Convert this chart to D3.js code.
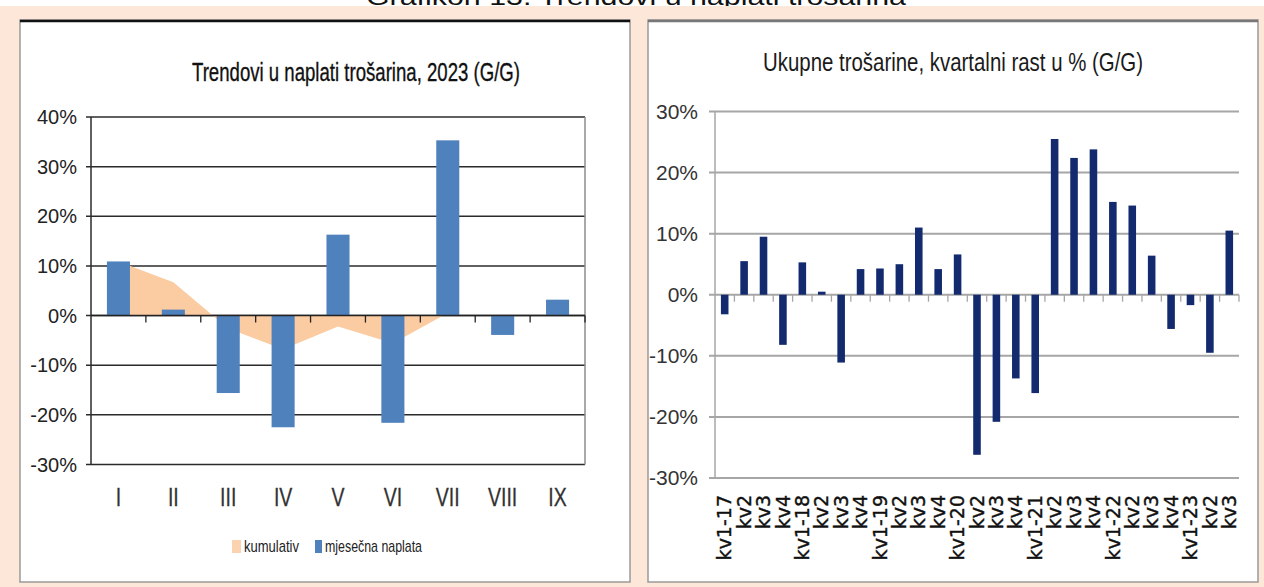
<!DOCTYPE html>
<html>
<head>
<meta charset="utf-8">
<script src="https://d3js.org/d3.v7.min.js"></script>
<style>
body { margin: 0; background: #fff; }
svg { display: block; }
.narrow { font-family: "Liberation Sans Narrow", "Arial Narrow", "Liberation Sans", sans-serif; }
.dejavu { font-family: "DejaVu Sans", sans-serif; }
</style>
</head>
<body>
<svg id="chart" width="1264" height="587"></svg>
<script>
// left chart: monthly collection 2023
const months = ["I", "II", "III", "IV", "V", "VI", "VII", "VIII", "IX"];
const monthly = [10.9, 1.2, -15.6, -22.5, 16.3, -21.6, 35.3, -3.9, 3.2];
const cumulative = [10.9, 6.7, -2.6, -6.8, -2.2, -5.6, 0.5]; // only up to VII
const leftTicks = [-30, -20, -10, 0, 10, 20, 30, 40];

// right chart: quarterly growth
const quarters = ["kv1-17", "kv2", "kv3", "kv4", "kv1-18", "kv2", "kv3", "kv4",
  "kv1-19", "kv2", "kv3", "kv4", "kv1-20", "kv2", "kv3", "kv4",
  "kv1-21", "kv2", "kv3", "kv4", "kv1-22", "kv2", "kv3", "kv4",
  "kv1-23", "kv2", "kv3"];
const quarterly = [-3.2, 5.5, 9.5, -8.2, 5.3, 0.5, -11.1, 4.2,
  4.3, 5.0, 11.0, 4.2, 6.6, -26.2, -20.8, -13.7,
  -16.1, 25.5, 22.4, 23.8, 15.2, 14.6, 6.4, -5.6,
  -1.7, -9.5, 10.5];
const rightTicks = [-30, -20, -10, 0, 10, 20, 30];

const svg = d3.select("#chart");
const pct = d => d + "%";

// page background + cut-off page caption
svg.append("text").attr("x", 636).attr("y", 5).attr("text-anchor", "middle")
  .attr("font-family", "Liberation Sans, sans-serif").attr("font-size", 24)
  .attr("textLength", 540).attr("lengthAdjust", "spacingAndGlyphs")
  .attr("fill", "#111").text("Grafikon 13: Trendovi u naplati trošarina");
svg.append("rect").attr("x", 0).attr("y", 6).attr("width", 1264).attr("height", 581).attr("fill", "#fce7d9");

// panels
svg.append("rect").attr("x", 20).attr("y", 20).attr("width", 610).attr("height", 562)
  .attr("fill", "#fff").attr("stroke", "#9a9a9a").attr("stroke-width", 1.5);
svg.append("line").attr("x1", 20).attr("x2", 630).attr("y1", 21).attr("y2", 21)
  .attr("stroke", "#111").attr("stroke-width", 2.5);
svg.append("rect").attr("x", 648).attr("y", 20).attr("width", 610).attr("height", 562)
  .attr("fill", "#fff").attr("stroke", "#9a9a9a").attr("stroke-width", 1.5);
svg.append("line").attr("x1", 648).attr("x2", 1258).attr("y1", 21).attr("y2", 21)
  .attr("stroke", "#777").attr("stroke-width", 2.5);

// ---------- left chart ----------
const L = svg.append("g");
const xL = d3.scaleBand().domain(months.map((m, i) => i)).range([91, 585])
  .paddingInner(0.58).paddingOuter(0.29);
const yL = d3.scaleLinear().domain([-30, 40]).range([464.5, 117]);
const cxL = i => xL(i) + xL.bandwidth() / 2;

L.append("text").attr("class", "narrow").attr("x", 356).attr("y", 81)
  .attr("text-anchor", "middle").attr("font-size", 26).attr("fill", "#111")
  .attr("stroke", "#111").attr("stroke-width", 0.35)
  .attr("textLength", 328).attr("lengthAdjust", "spacingAndGlyphs")
  .text("Trendovi u naplati trošarina, 2023 (G/G)");

L.selectAll(".grid").data(leftTicks).join("line")
  .attr("x1", 86).attr("x2", 585)
  .attr("y1", d => yL(d)).attr("y2", d => yL(d))
  .attr("stroke", "#2b2b2b").attr("stroke-width", 1.5);
L.append("line").attr("x1", 585).attr("x2", 585).attr("y1", yL(40)).attr("y2", yL(-30))
  .attr("stroke", "#8c8c8c").attr("stroke-width", 1.5);
L.append("line").attr("x1", 91).attr("x2", 91).attr("y1", yL(40)).attr("y2", yL(-30))
  .attr("stroke", "#2b2b2b").attr("stroke-width", 1.5);

L.selectAll(".ylab").data(leftTicks).join("text").attr("class", "narrow")
  .attr("x", 77).attr("y", d => yL(d)).attr("dy", "0.35em")
  .attr("text-anchor", "end").attr("font-size", 20).attr("fill", "#222")
  .text(pct);

const area = d3.area().x((d, i) => cxL(i)).y0(yL(0)).y1(d => yL(d));
L.append("path").datum(cumulative).attr("d", area).attr("fill", "#fbcba2");

L.selectAll(".bar").data(monthly).join("rect")
  .attr("x", (d, i) => xL(i)).attr("width", xL.bandwidth())
  .attr("y", d => yL(Math.max(0, d)))
  .attr("height", d => Math.abs(yL(d) - yL(0)))
  .attr("fill", "#4f81bd");

L.append("line").attr("x1", 91).attr("x2", 585).attr("y1", yL(0)).attr("y2", yL(0))
  .attr("stroke", "#222").attr("stroke-width", 1.5);
L.selectAll(".xtick").data(d3.range(1, months.length + 1)).join("line")
  .attr("x1", i => xL.range()[0] + i * xL.step()).attr("x2", i => xL.range()[0] + i * xL.step())
  .attr("y1", yL(0)).attr("y2", yL(0) + 7)
  .attr("stroke", "#222").attr("stroke-width", 1.3);

L.selectAll(".xlab").data(months).join("text").attr("class", "narrow")
  .attr("transform", (d, i) => `translate(${cxL(i)},506) scale(0.75,1)`)
  .attr("text-anchor", "middle").attr("font-size", 26).attr("fill", "#333")
  .attr("stroke", "#333").attr("stroke-width", 0.3)
  .text(d => d);

// legend
const leg = L.append("g");
leg.append("rect").attr("x", 232).attr("y", 540).attr("width", 9).attr("height", 13).attr("fill", "#fcd3b0");
leg.append("text").attr("class", "narrow").attr("x", 244).attr("y", 552)
  .attr("font-size", 17).attr("fill", "#222")
  .attr("textLength", 55).attr("lengthAdjust", "spacingAndGlyphs").text("kumulativ");
leg.append("rect").attr("x", 315).attr("y", 540).attr("width", 7).attr("height", 13).attr("fill", "#4f81bd");
leg.append("text").attr("class", "narrow").attr("x", 325).attr("y", 552)
  .attr("font-size", 17).attr("fill", "#222")
  .attr("textLength", 97).attr("lengthAdjust", "spacingAndGlyphs").text("mjesečna naplata");

// ---------- right chart ----------
const R = svg.append("g");
const xR = d3.scaleBand().domain(quarters.map((q, i) => i)).range([715, 1239])
  .paddingInner(0.61).paddingOuter(0.305);
const yR = d3.scaleLinear().domain([-30, 30]).range([478, 111.5]);
const cxR = i => xR(i) + xR.bandwidth() / 2;

R.append("text").attr("class", "narrow").attr("x", 953).attr("y", 71)
  .attr("text-anchor", "middle").attr("font-size", 26).attr("fill", "#1a1a1a")
  .attr("textLength", 380).attr("lengthAdjust", "spacingAndGlyphs")
  .text("Ukupne trošarine, kvartalni rast  u % (G/G)");

R.selectAll(".grid").data(rightTicks).join("line")
  .attr("x1", 709).attr("x2", 1239)
  .attr("y1", d => yR(d)).attr("y2", d => yR(d))
  .attr("stroke", "#a6a6a6").attr("stroke-width", 2);
R.append("line").attr("x1", 715).attr("x2", 715).attr("y1", yR(30)).attr("y2", yR(-30))
  .attr("stroke", "#a6a6a6").attr("stroke-width", 1.5);

R.selectAll(".ylab").data(rightTicks).join("text").attr("class", "narrow")
  .attr("x", 698).attr("y", d => yR(d)).attr("dy", "0.35em")
  .attr("text-anchor", "end").attr("font-size", 21).attr("fill", "#333")
  .text(pct);

R.selectAll(".bar").data(quarterly).join("rect")
  .attr("x", (d, i) => xR(i)).attr("width", xR.bandwidth())
  .attr("y", d => yR(Math.max(0, d)))
  .attr("height", d => Math.abs(yR(d) - yR(0)))
  .attr("fill", "#132a6e");

R.selectAll(".xtick").data(d3.range(1, quarters.length + 1)).join("line")
  .attr("x1", i => xR.range()[0] + i * xR.step()).attr("x2", i => xR.range()[0] + i * xR.step())
  .attr("y1", yR(0)).attr("y2", yR(0) + 7)
  .attr("stroke", "#a6a6a6").attr("stroke-width", 1.3);

R.selectAll(".xlab").data(quarters).join("text").attr("class", "dejavu")
  .attr("transform", (d, i) => `translate(${cxR(i)},495) rotate(-90)`)
  .attr("text-anchor", "end").attr("dy", "0.35em")
  .attr("font-size", 19).attr("fill", "#111")
  .attr("stroke", "#111").attr("stroke-width", 0.4)
  .text(d => d);
</script>
</body>
</html>
